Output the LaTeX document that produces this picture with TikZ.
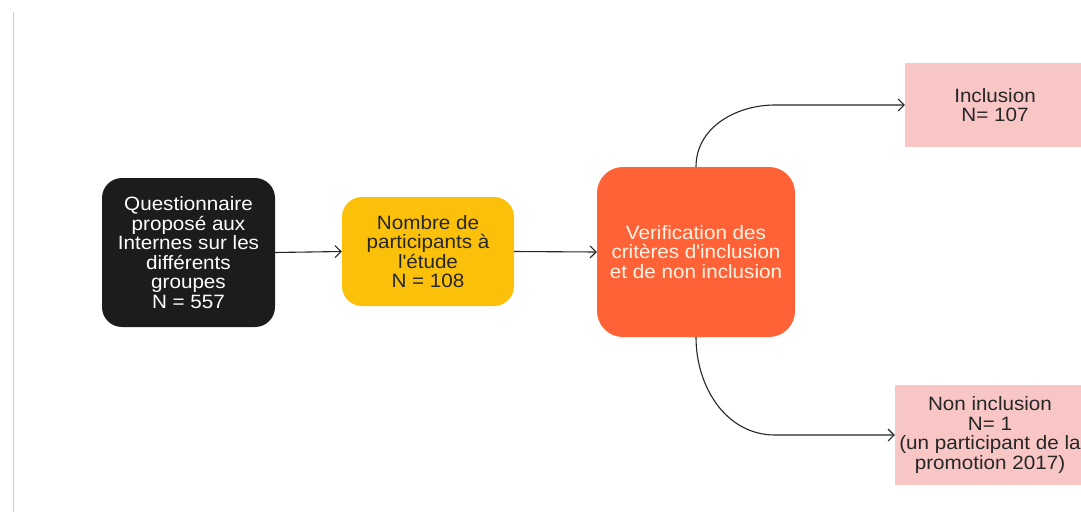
\documentclass[tikz,border=0pt]{standalone}
\usepackage{fontspec}
\setmainfont{Liberation Sans}[FakeStretch=1.07]
\usetikzlibrary{arrows.meta}
\definecolor{boxblack}{HTML}{1C1C1C}
\definecolor{boxyellow}{HTML}{FBC10A}
\definecolor{boxorange}{HTML}{FF6236}
\definecolor{boxpink}{HTML}{F9C6C6}
\definecolor{cream}{HTML}{FFF4E6}
\begin{document}
\begin{tikzpicture}[x=1pt,y=-1pt,
  box/.style={align=center,inner sep=0pt,font=\fontsize{19.3}{19.5}\selectfont},
  rbox/.style={box,rounded corners=20pt},
  conn/.style={draw=black!85,line width=1.1pt,-{Straight Barb[length=6pt,width=12pt]}}]
\useasboundingbox (0,0) rectangle (1081,512);
\fill[white] (0,0) rectangle (1081,512);
\draw[black!20,line width=1pt] (13,12) -- (13,512);
\node[rbox,fill=boxblack,text=white,minimum width=173pt,minimum height=149pt] (q) at (188.5,252.5)
  {Questionnaire\\proposé aux\\Internes sur les\\différents\\groupes\\N = 557};
\node[rbox,fill=boxyellow,text=black!85,minimum width=172pt,minimum height=109pt] (p) at (428,251.5)
  {Nombre de\\participants à\\l\textquotesingle étude\\N = 108};
\node[box,rounded corners=26pt,fill=boxorange,text=cream,minimum width=198pt,minimum height=170pt] (v) at (696,252)
  {Verification des\\critères d\textquotesingle inclusion\\et de non inclusion};
\node[box,fill=boxpink,text=black!85,minimum width=180pt,minimum height=84pt] (i) at (995,105)
  {Inclusion\\N= 107};
\node[box,fill=boxpink,text=black!85,minimum width=190pt,minimum height=100pt] (n) at (990,435)
  {Non inclusion\\N= 1\\(un participant de la\\promotion 2017)};
\coordinate (ci) at (775,105);
\coordinate (cn) at (775,435);
\draw[conn] (q.east) -- (p.west);
\draw[conn] (p.east) -- (v.west);
\draw[conn] (v.north) to[out=90,in=180] (ci) -- (i.west);
\draw[conn] (v.south) to[out=-90,in=180] (cn) -- (n.west);
\end{tikzpicture}
\end{document}
